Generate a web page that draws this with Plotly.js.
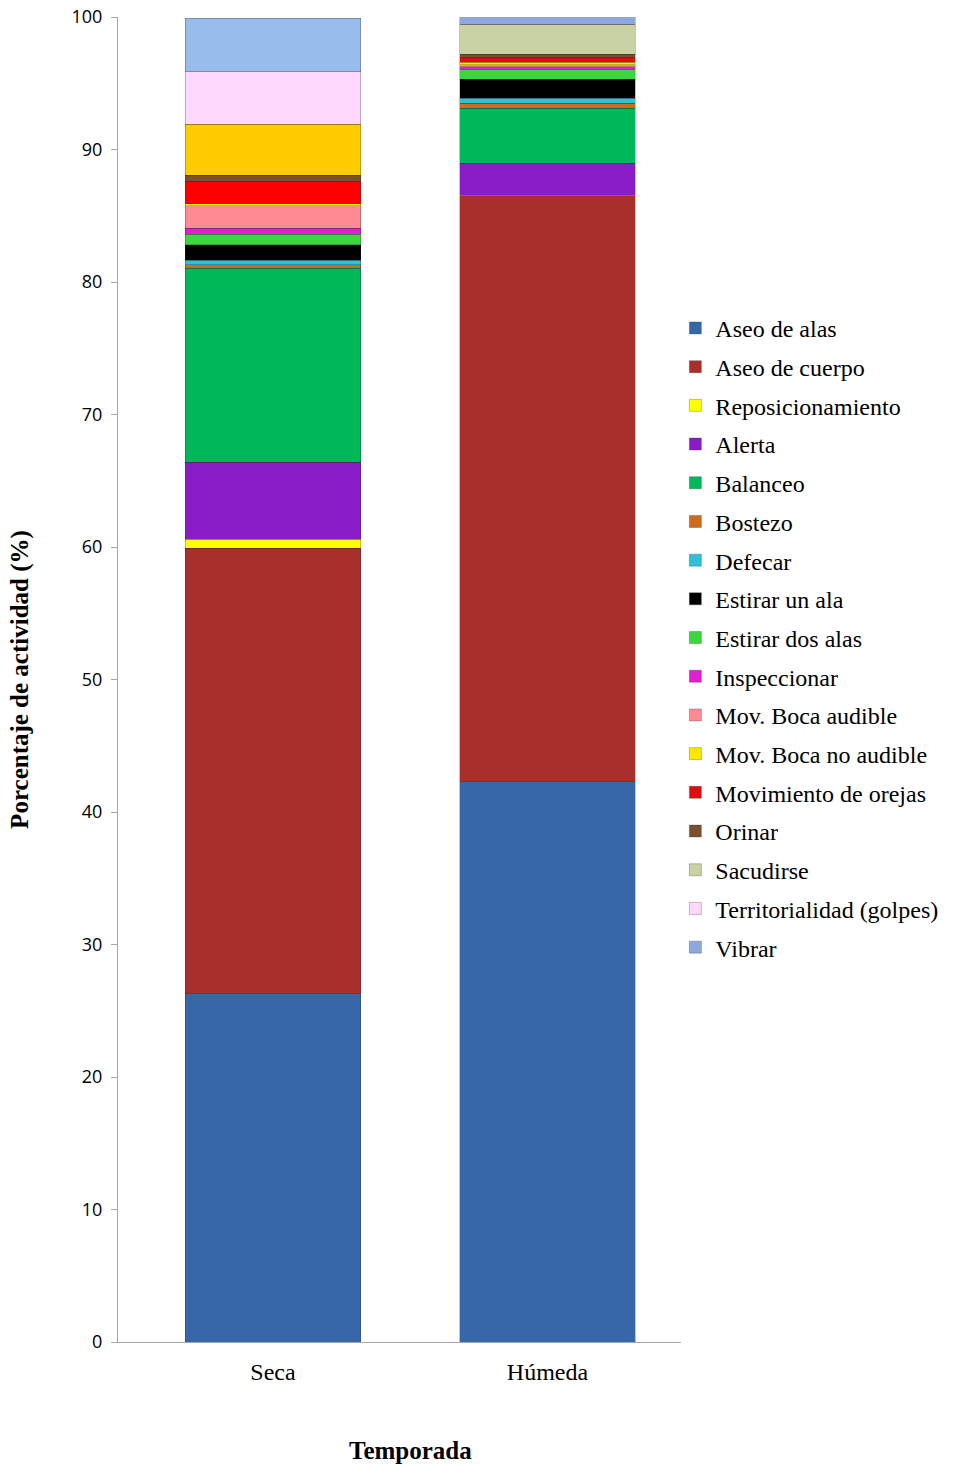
<!DOCTYPE html>
<html>
<head>
<meta charset="utf-8">
<script src="https://cdn.plot.ly/plotly-3.0.1.min.js"></script>
<style>
  html, body { margin: 0; padding: 0; background: #fff; }
  #chart { width: 957px; height: 1465px; }
</style>
</head>
<body>
<div id="chart"></div>
<script>
// Seasons on the category axis
const seasons = ['Seca', 'Húmeda'];

// Behaviour categories, stacked bottom to top
const behaviours = [
  'Aseo de alas', 'Aseo de cuerpo', 'Reposicionamiento', 'Alerta', 'Balanceo',
  'Bostezo', 'Defecar', 'Estirar un ala', 'Estirar dos alas', 'Inspeccionar',
  'Mov. Boca audible', 'Mov. Boca no audible', 'Movimiento de orejas', 'Orinar',
  'Sacudirse', 'Territorialidad (golpes)', 'Vibrar'
];

// Percentage of activity per behaviour: [Seca, Húmeda]
const aseoAlas        = [26.3, 42.3];
const aseoCuerpo      = [33.6, 44.2];
const reposicion      = [0.7, 0.05];
const alerta          = [5.8, 2.4];
const balanceo        = [14.65, 4.15];
const bostezo         = [0.25, 0.4];
const defecar         = [0.35, 0.35];
const estirarUnAla    = [1.15, 1.45];
const estirarDosAlas  = [0.8, 0.75];
const inspeccionar    = [0.45, 0.2];
const bocaAudible     = [1.7, 0.15];
const bocaNoAudible   = [0.15, 0.2];
const movOrejas       = [1.7, 0.35];
const orinar          = [0.45, 0.25];
const sacudirse       = [3.85, 2.2];
const territorialidad = [4.0, 0.05];
const vibrar          = [4.0, 0.6];

const seriesValues = [
  aseoAlas, aseoCuerpo, reposicion, alerta, balanceo, bostezo, defecar,
  estirarUnAla, estirarDosAlas, inspeccionar, bocaAudible, bocaNoAudible,
  movOrejas, orinar, sacudirse, territorialidad, vibrar
];

// Fill colours per behaviour: [Seca, Húmeda]
const seriesColors = [
  ['#3767A8', '#3767A8'],
  ['#A8302C', '#A8302C'],
  ['#FFFF00', '#FFFF00'],
  ['#8A1CC8', '#8A1CC8'],
  ['#00B85A', '#00B85A'],
  ['#D06A1E', '#D06A1E'],
  ['#30C0D8', '#30C0D8'],
  ['#000000', '#000000'],
  ['#3ED63E', '#3ED63E'],
  ['#E020D0', '#E020D0'],
  ['#FF8A94', '#FF8A94'],
  ['#FFFF00', '#FFE800'],
  ['#FF0000', '#D81010'],
  ['#7A5030', '#7A5030'],
  ['#FFCC00', '#C8D2A4'],
  ['#FFD8FF', '#FFD8FF'],
  ['#98BCEC', '#8CA8DC']
];

// Húmeda is listed first in each trace so the legend swatch takes its colour;
// the axis order is fixed by categoryarray.
const order = [1, 0];

const traces = behaviours.map((name, i) => ({
  type: 'bar',
  name: name,
  legendgroup: 'g' + i,
  x: order.map(k => seasons[k]),
  y: order.map(k => seriesValues[i][k]),
  marker: {
    color: order.map(k => seriesColors[i][k]),
    line: { color: 'rgba(40,40,40,0.35)', width: 0.8 }
  },
  hovertemplate: '%{x}: %{y}%<extra>' + name + '</extra>'
}));

const serif = 'Liberation Serif, serif';

const layout = {
  width: 957,
  height: 1465,
  barmode: 'stack',
  bargap: 0.359,
  paper_bgcolor: '#ffffff',
  plot_bgcolor: '#ffffff',
  margin: { l: 118, r: 276, t: 17, b: 123 },
  font: { family: serif, color: '#000' },
  showlegend: true,
  legend: {
    x: 0.99,
    xanchor: 'left',
    y: 0.782,
    yanchor: 'top',
    traceorder: 'grouped',
    tracegroupgap: 4.5,
    font: { family: serif, size: 24, color: '#000' },
    bgcolor: 'rgba(0,0,0,0)'
  },
  xaxis: {
    type: 'category',
    categoryorder: 'array',
    categoryarray: seasons,
    range: [-0.5647, 1.4863],
    showline: true,
    linecolor: '#A6A6A6',
    linewidth: 1,
    ticks: '',
    showgrid: false,
    zeroline: false,
    ticklabelstandoff: 8,
    tickfont: { family: serif, size: 24, color: '#000' }
  },
  yaxis: {
    range: [0, 100],
    dtick: 10,
    showline: true,
    linecolor: '#A6A6A6',
    linewidth: 1,
    ticks: 'outside',
    ticklen: 6,
    tickcolor: '#A6A6A6',
    showgrid: false,
    zeroline: false,
    ticklabelstandoff: 5,
    tickfont: { family: 'Open Sans, sans-serif', size: 18, color: '#000' },
    title: {
      text: '<b>Porcentaje de actividad (%)</b>',
      font: { family: serif, size: 25, color: '#000' },
      standoff: 35
    }
  },
  annotations: [{
    text: '<b>Temporada</b>',
    xref: 'paper', yref: 'paper',
    x: (410 - 118) / 563, y: -(1450 - 1342) / 1325,
    xanchor: 'center', yanchor: 'middle',
    showarrow: false,
    font: { family: serif, size: 25, color: '#000' }
  }]
};

Plotly.newPlot('chart', traces, layout, { displayModeBar: false, staticPlot: true });
</script>
</body>
</html>
